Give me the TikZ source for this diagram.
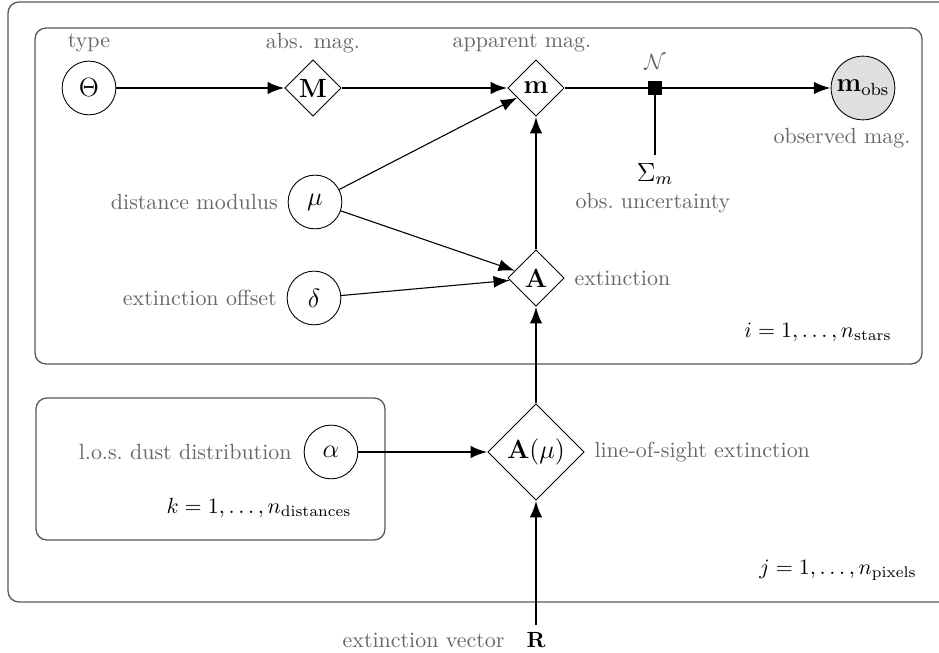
\documentclass[tikz,border=0pt]{standalone}
\usepackage{amsmath}
\usetikzlibrary{positioning,shapes.geometric,arrows.meta}

\begin{document}
\begin{tikzpicture}[
    x=0.016cm, y=-0.016cm,
    latent/.style={circle, draw, minimum size=0.86cm, inner sep=0pt, font=\large},
    observed/.style={latent, fill=gray!25, minimum size=1.02cm},
    det/.style={diamond, draw, minimum size=0.9cm, inner sep=0pt, font=\large},
    factor/.style={rectangle, fill=black, minimum size=0.21cm, inner sep=0pt},
    plate/.style={draw=black!65, line width=0.6pt, rounded corners=5pt},
    caption/.style={text=black!60},
    relation/.style={-{Latex[length=2.7mm,width=2mm]}, line width=1.1pt},
    link/.style={-{Latex[length=2.6mm,width=1.9mm]}, line width=0.5pt},
    node distance=1pt
  ]

    \useasboundingbox (0,0) rectangle (939,653);

    % Plates: pixels, stars, distances
    \draw[plate] (8,2) rectangle (960,602);
    \draw[plate] (35,28) rectangle (922,364);
    \draw[plate] (36,398) rectangle (385,540);

    % Row 1: type, abs. mag., apparent mag., noise, observed mag.
    \node[latent] (theta) at (89,88) {$\Theta$};
    \node[det] (M) at (313,88) {$\mathbf{M}$};
    \node[det] (m) at (536,88) {$\mathbf{m}$};
    \node[factor] (noise) at (655,88) {};
    \node[observed] (mobs) at (863,88) {$\mathbf{m}_{\mathrm{obs}}$};

    \node[caption] (typeLbl) at (89,43) {type};
    \node[caption] (absLbl) at (313,43) {abs. mag.};
    \node[caption] (appLbl) at (522,43) {apparent mag.};
    \node[caption] (normLbl) at (655,62) {$\mathcal{N}$};
    \node[font=\large] (sig) at (655,174) {$\Sigma_m$};
    \node[caption] (uncLbl) at (653,203) {obs.\ uncertainty};
    \node[caption] (obsLbl) at (842,138) {observed mag.};

    % Row 2 and 3: distance modulus, extinction offset, extinction
    \node[latent] (mu) at (315,202) {$\mu$};
    \node[latent] (delta) at (314,298) {$\delta$};
    \node[det] (A) at (536,278) {$\mathbf{A}$};

    \node[caption, left=1pt of mu] (distLbl) {distance modulus};
    \node[caption, left=1pt of delta] (offLbl) {extinction offset};
    \node[caption, right=1pt of A] (extLbl) {extinction};
    \node (iLbl) at (818,332) {$i = 1, \ldots, n_{\mathrm{stars}}$};

    % Lower part: dust distribution, line-of-sight extinction
    \node[latent] (alpha) at (331,452) {$\alpha$};
    \node[det, minimum size=1.54cm] (Amu) at (536,452) {$\mathbf{A}(\mu)$};
    \node (rvec) at (536,640) {$\mathbf{R}$};

    \node[caption, left=2pt of alpha] (losLbl) {l.o.s.\ dust distribution};
    \node[caption, right=1pt of Amu] (losExt) {line-of-sight extinction};
    \node[caption, left=3pt of rvec] (vecLbl) {extinction vector};
    \node (kLbl) at (259,508) {$k = 1, \ldots, n_{\mathrm{distances}}$};
    \node (jLbl) at (838,570) {$j = 1, \ldots, n_{\mathrm{pixels}}$};

    % Relations
    \draw[relation] (theta) -- (M);
    \draw[relation] (M) -- (m);
    \draw[line width=1.1pt] (m) -- (noise);
    \draw[relation] (noise) -- (mobs);
    \draw[line width=1.1pt] (noise) -- (sig);
    \draw[link] (mu) -- (m);
    \draw[link] (mu) -- (A);
    \draw[link] (delta) -- (A);
    \draw[relation] (A) -- (m);
    \draw[relation] (Amu) -- (A);
    \draw[relation] (alpha) -- (Amu);
    \draw[relation] (rvec) -- (Amu);
  \end{tikzpicture}
\end{document}
